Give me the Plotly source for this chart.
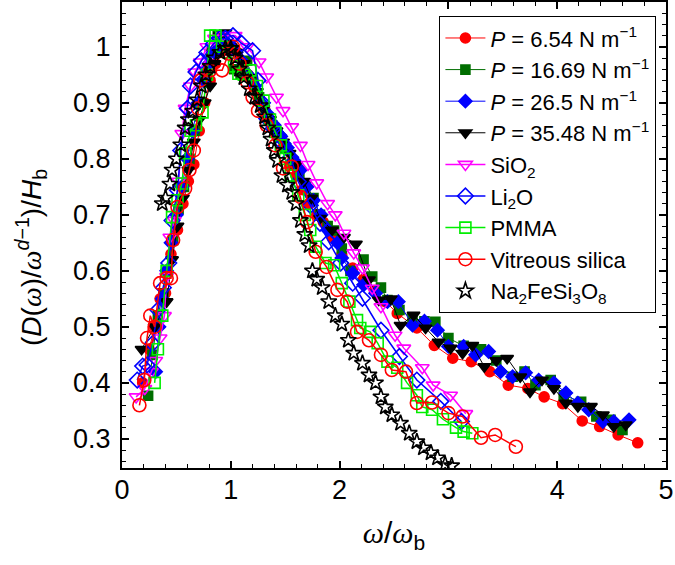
import plotly.graph_objects as go

# ---------------- data ----------------
x_p654 = [0.19,0.25,0.30,0.35,0.40,0.45,0.51,0.56,0.61,0.66,0.71,0.76,0.81,0.86,0.91,0.96,1.01,1.06,1.11,1.16,
          1.21,1.26,1.31,1.36,1.42,1.48,1.54,1.60,1.66,1.72,1.79,1.85,1.93,2.02,2.12,2.22,2.32,2.42,2.53,2.71,
          2.87,3.04,3.21,3.38,3.55,3.73,3.88,4.05,4.23,4.39,4.56,4.74]
y_p654 = [0.40,0.46,0.50,0.55,0.56,0.63,0.673,0.72,0.76,0.79,0.85,0.90,0.94,0.97,0.99,1.00,1.00,0.99,0.97,0.95,
          0.93,0.91,0.89,0.87,0.85,0.82,0.79,0.77,0.745,0.72,0.70,0.687,0.66,0.628,0.605,0.585,0.565,0.545,0.524,0.498,
          0.467,0.444,0.438,0.42,0.396,0.39,0.375,0.363,0.332,0.322,0.307,0.293]

x_p1669 = [0.24,0.28,0.33,0.38,0.42,0.47,0.52,0.57,0.62,0.67,0.72,0.77,0.82,0.88,0.93,0.98,1.03,1.09,1.15,1.20,
           1.26,1.32,1.38,1.44,1.50,1.57,1.63,1.69,1.76,1.82,1.89,1.95,2.02,2.10,2.22,2.30,2.38,2.44,2.55,2.67,
           2.78,2.88,3.00,3.14,3.30,3.44,3.59,3.70,3.80,3.94,4.06,4.22,4.36,4.49,4.60]
y_p1669 = [0.377,0.45,0.52,0.56,0.60,0.655,0.71,0.75,0.80,0.85,0.90,0.95,0.99,1.02,1.02,1.00,0.96,0.95,0.975,0.94,
           0.91,0.88,0.86,0.84,0.82,0.79,0.77,0.756,0.73,0.70,0.68,0.672,0.64,0.60,0.62,0.59,0.57,0.548,0.53,0.516,
           0.51,0.509,0.48,0.466,0.46,0.44,0.411,0.42,0.396,0.405,0.378,0.366,0.34,0.334,0.316]

x_p265 = [0.31,0.34,0.37,0.41,0.45,0.50,0.55,0.60,0.65,0.70,0.75,0.80,0.85,0.90,0.95,1.00,1.05,1.10,1.16,1.22,
          1.28,1.34,1.40,1.46,1.52,1.58,1.64,1.70,1.76,1.83,1.89,1.98,2.02,2.12,2.22,2.33,2.44,2.54,2.67,2.78,
          2.90,3.00,3.14,3.25,3.37,3.48,3.59,3.71,3.83,3.97,4.08,4.19,4.29,4.42,4.52,4.66]
y_p265 = [0.42,0.50,0.55,0.60,0.65,0.70,0.75,0.80,0.85,0.90,0.94,0.97,0.99,1.00,1.01,1.00,0.99,0.975,0.95,0.93,
          0.90,0.88,0.86,0.84,0.82,0.797,0.78,0.75,0.726,0.70,0.673,0.65,0.623,0.596,0.575,0.56,0.545,0.545,0.503,0.51,
          0.494,0.465,0.465,0.45,0.456,0.42,0.411,0.418,0.405,0.40,0.382,0.364,0.352,0.331,0.331,0.334]

x_p3548 = [0.18,0.30,0.41,0.46,0.51,0.56,0.61,0.66,0.71,0.76,0.81,0.85,0.90,0.95,1.00,1.06,1.12,1.18,1.24,1.30,
           1.36,1.42,1.48,1.54,1.60,1.67,1.74,1.82,1.93,2.04,2.15,2.27,2.36,2.47,2.56,2.68,2.79,2.91,3.02,3.13,
           3.22,3.33,3.44,3.54,3.66,3.75,3.86,3.97,4.08,4.19,4.31,4.42,4.52,4.63]
y_p3548 = [0.46,0.50,0.545,0.62,0.68,0.73,0.78,0.83,0.87,0.90,0.93,0.97,1.02,1.025,1.00,0.99,0.97,0.945,0.92,0.89,
           0.87,0.85,0.83,0.81,0.79,0.76,0.73,0.694,0.673,0.66,0.648,0.584,0.548,0.55,0.503,0.521,0.498,0.473,0.462,0.453,
           0.467,0.429,0.44,0.444,0.411,0.384,0.405,0.39,0.364,0.358,0.358,0.343,0.322,0.325]

x_sio2 = [0.13,0.21,0.27,0.31,0.35,0.39,0.41,0.44,0.48,0.52,0.55,0.58,0.63,0.67,0.72,0.78,0.85,0.93,1.04,1.15,
          1.26,1.33,1.42,1.48,1.56,1.64,1.71,1.79,1.89,1.96,2.04,2.13,2.21,2.30,2.38,2.51,2.59,2.76,2.86,3.02,3.16]
y_sio2 = [0.375,0.39,0.42,0.44,0.48,0.52,0.59,0.66,0.69,0.76,0.845,0.89,0.93,0.955,0.973,1.0,1.015,1.02,1.02,1.00,
          0.973,0.946,0.91,0.886,0.857,0.824,0.79,0.757,0.72,0.70,0.667,0.632,0.605,0.569,0.536,0.485,0.462,0.427,0.396,0.378,0.345]

x_li2o = [0.14,0.19,0.23,0.28,0.33,0.38,0.43,0.46,0.51,0.54,0.60,0.63,0.68,0.73,0.78,0.84,0.90,0.95,1.02,1.10,
          1.20,1.25,1.29,1.33,1.39,1.44,1.48,1.55,1.62,1.73,1.82,1.90,2.01,2.12,2.21,2.38,2.55,2.71,2.93,3.12]
y_li2o = [0.405,0.43,0.432,0.47,0.53,0.57,0.614,0.69,0.744,0.815,0.89,0.93,0.955,0.975,0.99,1.005,1.015,1.015,1.02,1.006,
          0.993,0.94,0.90,0.872,0.854,0.842,0.827,0.803,0.759,0.717,0.685,0.652,0.614,0.578,0.551,0.494,0.447,0.405,0.367,0.331]

x_pmma = [0.30,0.33,0.37,0.41,0.46,0.51,0.55,0.58,0.63,0.68,0.74,0.78,0.81,0.86,0.92,0.98,1.03,1.07,1.12,1.18,
          1.24,1.30,1.36,1.41,1.46,1.50,1.55,1.62,1.68,1.73,1.78,1.87,1.95,2.02,2.09,2.16,2.19,2.28,2.35,2.44,
          2.53,2.62,2.71,2.76,2.85,2.95,3.07,3.14,3.22]
y_pmma = [0.40,0.46,0.52,0.60,0.696,0.726,0.756,0.81,0.85,0.86,0.883,0.95,1.02,1.02,1.00,0.99,0.965,0.952,0.95,0.958,
          0.93,0.904,0.87,0.848,0.824,0.80,0.77,0.735,0.70,0.673,0.643,0.614,0.61,0.578,0.545,0.512,0.498,0.491,0.471,0.438,
          0.427,0.40,0.378,0.357,0.352,0.335,0.32,0.313,0.31]

x_vit = [0.16,0.205,0.23,0.26,0.30,0.35,0.41,0.45,0.47,0.51,0.58,0.62,0.66,0.70,0.72,0.81,0.92,0.98,1.02,1.08,
         1.15,1.20,1.25,1.33,1.41,1.48,1.56,1.64,1.70,1.78,1.88,1.98,2.07,2.16,2.27,2.38,2.48,2.61,2.71,2.85,
         3.00,3.13,3.30,3.43,3.62]
y_vit = [0.36,0.405,0.48,0.52,0.50,0.578,0.587,0.587,0.655,0.714,0.747,0.78,0.815,0.89,0.94,0.958,0.958,0.988,1.0,0.97,
         0.937,0.91,0.886,0.86,0.824,0.783,0.786,0.732,0.687,0.634,0.607,0.566,0.545,0.491,0.476,0.45,0.423,0.42,0.364,0.365,
         0.346,0.34,0.302,0.307,0.286]

x_na = [0.37,0.40,0.44,0.46,0.50,0.54,0.58,0.61,0.65,0.69,0.73,0.77,0.81,0.85,0.90,0.95,1.00,1.04,1.08,1.12,
        1.17,1.22,1.27,1.31,1.34,1.37,1.40,1.43,1.47,1.52,1.56,1.60,1.64,1.68,1.72,1.75,1.79,1.84,1.90,1.96,
        2.02,2.08,2.13,2.21,2.27,2.33,2.38,2.42,2.48,2.56,2.64,2.71,2.77,2.84,2.90,2.97,3.03]
y_na = [0.72,0.73,0.755,0.78,0.80,0.825,0.855,0.87,0.885,0.905,0.93,0.95,0.965,0.98,0.99,0.997,0.997,0.98,0.96,0.945,
        0.925,0.91,0.895,0.875,0.855,0.835,0.815,0.797,0.77,0.753,0.74,0.72,0.69,0.665,0.645,0.60,0.585,0.57,0.545,0.52,
        0.505,0.476,0.453,0.435,0.414,0.40,0.375,0.357,0.343,0.328,0.31,0.295,0.284,0.275,0.266,0.254,0.252]

x_ticks = [0, 1, 2, 3, 4, 5]
y_ticks = [0.3, 0.4, 0.5, 0.6, 0.7, 0.8, 0.9, 1.0]
y_tick_labels = ["0.3", "0.4", "0.5", "0.6", "0.7", "0.8", "0.9", "1"]

SERIF_W = "<span style=\"font-family:'Liberation Serif'\"><i>ω</i></span>"
X_TITLE = SERIF_W + "/" + SERIF_W + "<sub>b</sub>"
Y_TITLE = "(<i>D</i>(" + SERIF_W + ")/" + SERIF_W + "<sup><i>d</i>−1</sup>)/<i>H</i><sub>b</sub>"

series = [
    dict(x=x_p654, y=y_p654, name="<i>P</i> = 6.54 N m<sup>−1</sup>", color="#ff0000", symbol="circle", size=10, lw=1, mode="lines+markers"),
    dict(x=x_p1669, y=y_p1669, name="<i>P</i> = 16.69 N m<sup>−1</sup>", color="#006e00", symbol="square", size=9, lw=1, mode="lines+markers"),
    dict(x=x_p265, y=y_p265, name="<i>P</i> = 26.5 N m<sup>−1</sup>", color="#0000ff", symbol="diamond", size=10, lw=1, mode="lines+markers"),
    dict(x=x_p3548, y=y_p3548, name="<i>P</i> = 35.48 N m<sup>−1</sup>", color="#000000", symbol="triangle-down", size=11, lw=1, mode="lines+markers"),
    dict(x=x_sio2, y=y_sio2, name="SiO<sub>2</sub>", color="#ff00ff", symbol="triangle-down-open", size=12, lw=1.5, mode="lines+markers"),
    dict(x=x_li2o, y=y_li2o, name="Li<sub>2</sub>O", color="#0000ff", symbol="diamond-open", size=12, lw=1.5, mode="lines+markers"),
    dict(x=x_pmma, y=y_pmma, name="PMMA", color="#00ee00", symbol="square-open", size=11, lw=1.5, mode="lines+markers"),
    dict(x=x_vit, y=y_vit, name="Vitreous silica", color="#ff0000", symbol="circle-open", size=13, lw=1.5, mode="lines+markers"),
    dict(x=x_na, y=y_na, name="Na<sub>2</sub>FeSi<sub>3</sub>O<sub>8</sub>", color="#000000", symbol="star-open", size=12, lw=1.5, mode="markers"),
]

fig = go.Figure()
for s in series:
    fig.add_trace(go.Scatter(
        x=s["x"], y=s["y"], name=s["name"], mode=s["mode"],
        line=dict(color=s["color"], width=s["lw"]),
        marker=dict(symbol=s["symbol"], size=s["size"], color=s["color"],
                    line=dict(color=s["color"], width=1.6)),
    ))

FONT = "Liberation Sans, Arial, sans-serif"
axis_common = dict(
    showline=True, linecolor="black", linewidth=2, mirror="ticks",
    ticks="inside", ticklen=7, tickwidth=1.5, tickcolor="black",
    showgrid=False, zeroline=False, automargin=False,
    tickfont=dict(family=FONT, size=27, color="black"),
)

fig.update_xaxes(
    range=[0, 5], tickvals=x_ticks,
    minor=dict(dtick=0.2, ticks="inside", ticklen=4, tickwidth=1.2, tickcolor="black"),
    ticklabelstandoff=-3,
    title=dict(text=X_TITLE, font=dict(family=FONT, size=30, color="black"), standoff=18),
    **axis_common,
)
fig.update_yaxes(
    range=[0.248, 1.08], tickvals=y_ticks, ticktext=y_tick_labels,
    minor=dict(dtick=0.02, tick0=0, ticks="inside", ticklen=4, tickwidth=1.2, tickcolor="black"),
    ticklabelstandoff=4,
    **axis_common,
)

# y-axis title placed as a rotated annotation (matches the off-centre label of the original)
fig.add_annotation(
    text=Y_TITLE, xref="paper", yref="paper",
    x=(31 - 122) / 544, y=(468 - 258) / 466, xanchor="center", yanchor="middle",
    textangle=-90, showarrow=False,
    font=dict(family=FONT, size=28, color="black"),
)

fig.update_layout(
    width=675, height=565,
    margin=dict(l=122, r=9, t=2, b=97, autoexpand=False),
    paper_bgcolor="white", plot_bgcolor="white",
    showlegend=True,
    legend=dict(
        x=0.982, y=0.97, xanchor="right", yanchor="top",
        bgcolor="white", bordercolor="black", borderwidth=1.2,
        font=dict(family=FONT, size=22, color="black"),
        tracegroupgap=0, itemwidth=40,
    ),
)

fig.write_html("out.html", config={"displayModeBar": False},
               post_script="document.body.style.margin='0px';")
